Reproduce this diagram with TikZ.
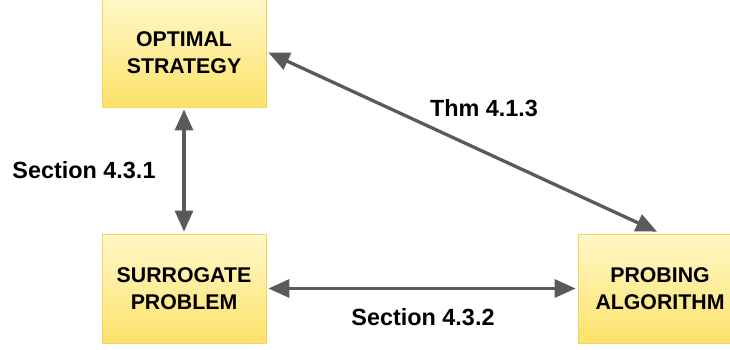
\documentclass[tikz,border=0pt]{standalone}
\usepackage{fontspec}
\setmainfont{Liberation Sans}
\usetikzlibrary{arrows.meta}
\definecolor{boxtop}{HTML}{FFF8C8}
\definecolor{boxbot}{HTML}{FCE26A}
\definecolor{boxline}{HTML}{F4D35E}
\definecolor{arr}{HTML}{5A5A5A}
\tikzset{
  box/.style={draw=boxline, line width=0.8pt, top color=boxtop, bottom color=boxbot,
    minimum width=164pt, minimum height=109pt, inner sep=0pt, align=center,
    font=\fontsize{21.3}{27}\selectfont\bfseries},
  lbl/.style={font=\fontsize{23.4}{27}\selectfont\bfseries, inner sep=0pt},
  conn/.style={draw=arr, line width=3.3pt,
    {Triangle[length=21pt,width=18pt]}-{Triangle[length=21pt,width=18pt]}}
}
\begin{document}
\begin{tikzpicture}[x=1pt,y=-1pt]
\useasboundingbox (0,0) rectangle (730,349);
\begin{scope}
\clip (0,0) rectangle (730,349);
\node[box] (opt) at (184,52.5) {OPTIMAL\\STRATEGY};
\node[box] (sur) at (184,288.5) {SURROGATE\\PROBLEM};
\node[box] (prob) at (660,288.5) {PROBING\\ALGORITHM};
\end{scope}
\draw[conn] ([yshift=-2pt]opt.south) -- ([yshift=2pt]sur.north);
\draw[conn] ([xshift=2pt]sur.east) -- ([xshift=-2pt]prob.west);
\draw[conn] ([xshift=2pt]opt.east) -- ([xshift=-3pt,yshift=2pt]prob.north);
\node[lbl] (l1) at (84,170) {Section 4.3.1};
\node[lbl] (l2) at (484,108) {Thm 4.1.3};
\node[lbl] (l3) at (423,317) {Section 4.3.2};
\end{tikzpicture}
\end{document}
